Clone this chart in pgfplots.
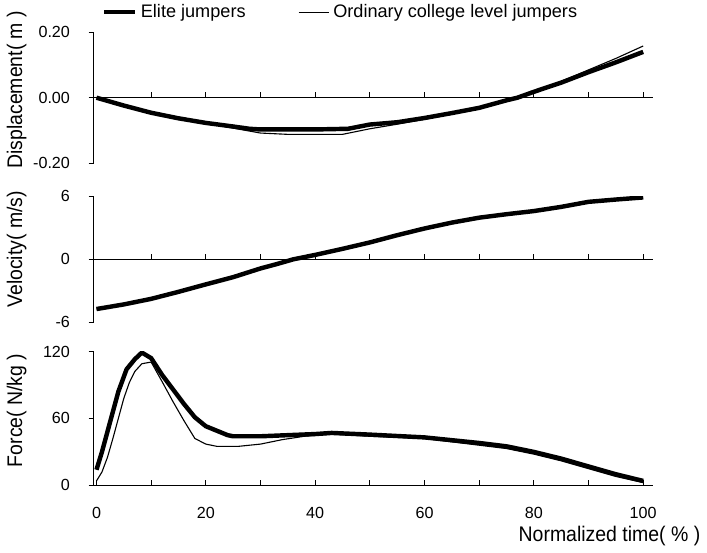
\documentclass[border=0pt]{standalone}
\usepackage{fontspec}
\setmainfont{Liberation Sans}
\newfontfamily\labelfont[FakeStretch=0.92]{Liberation Sans}
\usepackage{pgfplots}
\pgfplotsset{compat=1.18}

\pgfplotsset{
  panel/.style={
    scale only axis,
    width=277.7pt,
    xmin=-0.5, xmax=101.8,
    axis y line=left,
    axis line style={-, line width=0.5pt, black},
    tick align=center,
    major tick length=2.6pt,
    xtick style={yshift=1.3pt, line width=0.5pt, black},
    ytick style={xshift=-1.3pt, line width=0.5pt, black},
    hide obscured x ticks=false,
    hide obscured y ticks=false,
    tick label style={font=\fontsize{8}{9}\selectfont},
    yticklabel style={anchor=east, xshift=-7pt},
    ylabel style={font=\labelfont\fontsize{10.5}{12}\selectfont, anchor=center},
    xtick={10,20,...,100},
  },
  noarrows/.style={
    every outer x axis line/.append style={-},
    every inner x axis line/.append style={-},
    every outer y axis line/.append style={-},
    every inner y axis line/.append style={-},
  },
  elite/.style={black, line width=2.2pt, line join=round},
  ordinary/.style={black, line width=0.55pt, line join=round},
}

\begin{document}
\begin{tikzpicture}

% ---------------- displacement ----------------
\begin{axis}[
    panel,
    at={(0pt,0pt)}, anchor=north west,
    height=65pt,
    axis x line=middle,
    noarrows,
    ymin=-0.2, ymax=0.2,
    ytick={-0.2,0,0.2},
    yticklabels={-0.20,0.00,0.20},
    xticklabels={},
    ylabel={Displacement( m )},
    ylabel style={at={(axis description cs:-0.138,0.56)}},
    legend style={at={(axis description cs:0,1)}, anchor=west,
      xshift=4pt, yshift=10pt, draw=none, fill=none, inner sep=0pt,
      font=\fontsize{9}{10}\selectfont,
      /tikz/every even column/.append style={column sep=24pt}},
    legend columns=2,
    legend image code/.code={\draw[#1] (0pt,0pt) -- (15pt,0pt);},
  ]
  \addplot[elite] coordinates {
    (0,0) (5,-0.024) (10,-0.046) (15,-0.063) (20,-0.077) (25,-0.088)
    (28,-0.095) (30,-0.097) (40,-0.097) (46,-0.095) (50,-0.082)
    (55,-0.075) (60,-0.062) (65,-0.047) (70,-0.031) (75,-0.008)
    (77,0) (80,0.018) (85,0.046) (90,0.078) (95,0.108) (100,0.14)
  };
  \addlegendentry{Elite jumpers}
  \addplot[ordinary] coordinates {
    (0,0) (5,-0.022) (10,-0.045) (15,-0.063) (20,-0.078) (25,-0.093)
    (30,-0.108) (35,-0.112) (45,-0.112) (50,-0.095) (55,-0.081)
    (60,-0.066) (65,-0.05) (70,-0.034) (75,-0.01) (77,0) (80,0.02)
    (85,0.05) (90,0.085) (95,0.12) (100,0.158)
  };
  \addlegendentry{Ordinary college level jumpers}
\end{axis}

% ---------------- velocity ----------------
\begin{axis}[
    panel,
    at={(0pt,-81.5pt)}, anchor=north west,
    height=62.5pt,
    axis x line=middle,
    noarrows,
    ymin=-6, ymax=6,
    ytick={-6,0,6},
    yticklabels={-6,0,6},
    xticklabels={},
    ylabel={Velocity( m/s)},
    ylabel style={at={(axis description cs:-0.138,0.58)}},
  ]
  \addplot[ordinary] coordinates {
    (0,-4.74) (5,-4.3) (10,-3.77) (15,-3.1) (20,-2.39) (25,-1.7)
    (30,-0.87) (33,-0.45) (36,0) (40,0.42) (45,1.0) (50,1.61)
    (55,2.3) (60,2.94) (65,3.5) (70,3.97) (75,4.3) (80,4.6)
    (85,5.0) (90,5.48) (95,5.7) (100,5.9)
  };
  \addplot[elite] coordinates {
    (0,-4.74) (5,-4.3) (10,-3.77) (15,-3.1) (20,-2.39) (25,-1.7)
    (30,-0.87) (33,-0.45) (36,0) (40,0.42) (45,1.0) (50,1.61)
    (55,2.3) (60,2.94) (65,3.5) (70,3.97) (75,4.3) (80,4.6)
    (85,5.0) (90,5.48) (95,5.7) (100,5.9)
  };
\end{axis}

% ---------------- force ----------------
\begin{axis}[
    panel,
    at={(0pt,-158.5pt)}, anchor=north west,
    height=66.5pt,
    axis x line=bottom,
    noarrows,
    ymin=0, ymax=120,
    ytick={0,60,120},
    yticklabels={0,60,120},
    xtick={0,10,...,100},
    xticklabels={0,,20,,40,,60,,80,,100},
    xticklabel style={yshift=-6pt},
    ylabel={Force( N/kg )},
    ylabel style={at={(axis description cs:-0.138,0.56)}},
    xlabel={Normalized time( \% )},
    xlabel style={font=\labelfont\fontsize{10.5}{12}\selectfont,
      at={(axis description cs:1,0)}, anchor=east, xshift=27pt, yshift=-25pt},
  ]
  \addplot[elite] coordinates {
    (0,14) (1,30) (2,48) (3,66) (4,84) (5.5,104) (7,113) (8.3,119)
    (10,114) (12,99) (14,86) (16,73) (18,61) (20,53) (22,49) (24,45)
    (25,44) (30,44) (35,45) (40,46) (43,47) (50,45.5) (60,43)
    (70,38) (75,35) (80,30) (85,24) (90,17) (95,10) (100,4)
  };
  \addplot[ordinary] coordinates {
    (0,4) (1,12) (2,25) (3,42) (4,60) (5,78) (6,92) (7,102) (8.3,109)
    (10,110.5) (12,93) (14,75) (16,58) (18,42) (20,37) (22,35)
    (26,35) (30,37) (34,41) (38,44) (43,46) (50,44) (60,42)
    (70,36) (75,33) (80,28) (85,22) (90,15) (95,8) (100,2.5)
  };
\end{axis}

\end{tikzpicture}
\end{document}
